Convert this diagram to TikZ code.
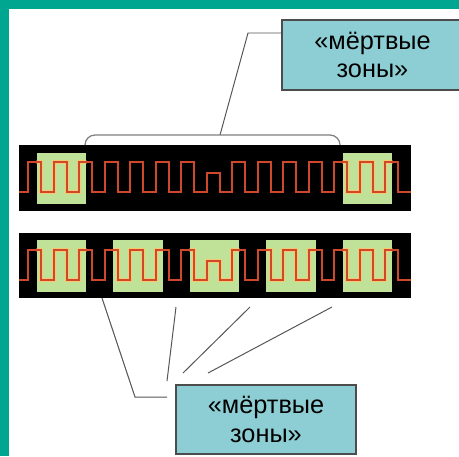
\documentclass[tikz,border=0pt]{standalone}
\usepackage{fontspec}
\setmainfont{Liberation Sans}
\usetikzlibrary{positioning}
\definecolor{rim}{RGB}{0,166,143}
\definecolor{labelfill}{RGB}{141,206,212}
\definecolor{zonefill}{RGB}{192,226,152}
\definecolor{wavered}{RGB}{208,72,44}
\definecolor{glowcol}{RGB}{246,200,112}
\definecolor{leadgray}{RGB}{85,85,85}

% square wave along a strip, #1 = y of the low level
\newcommand{\signal}[1]{(19,#1) \foreach \r/\h in {28/30,54/30,79/30,105/30,130/30,156/30,181/30,207/19,232/30,258/30,283/30,309/30,334/30,360/30,385/30} { -- (\r,#1) -- ++(0,-\h) -- ++(13,0) -- ++(0,\h) } -- (411,#1)}

\tikzset{
  labelbox/.style={draw=black!70,fill=labelfill,line width=0.8pt,align=center,inner sep=0pt,font=\fontsize{18}{20}\selectfont},
  strip/.style={fill=black,inner sep=0pt,minimum width=9.8cm},
  zone/.style={fill=zonefill,inner sep=0pt,minimum width=1.225cm},
  lead/.style={draw=leadgray,line width=0.7pt},
  bracket/.style={draw=black!50,line width=0.9pt,rounded corners=0.25cm},
  wave/.style={draw=wavered,line width=1.4pt},
  glow/.style={draw=glowcol,line width=3pt}
}

\begin{document}
\begin{tikzpicture}[x=0.025cm,y=-0.025cm]
\useasboundingbox (0,0) rectangle (459,456);
\fill[white] (0,0) rectangle (459,456);
\fill[rim] (0,0) rectangle (459,8.5);
\fill[rim] (0,0) rectangle (8.5,456);

% the two strips
\node[strip,minimum height=1.65cm] (upper) at (215,178) {};
\node[strip,minimum height=1.625cm] (lower) at (215,265.5) {};

% green zones
\node[zone,minimum height=1.275cm] (a1) at (61.5,178.5) {};
\node[zone,minimum height=1.275cm] (a2) at (367.5,178.5) {};
\foreach \i/\x in {1/61.5,2/138,3/214.5,4/291,5/367.5}
  \node[zone,minimum height=1.3cm] (b\i) at (\x,266) {};

% signals
\begin{scope}
\clip (a1.north west) rectangle (a1.south east) (a2.north west) rectangle (a2.south east);
\draw[glow] \signal{192};
\end{scope}
\begin{scope}
\clip \foreach \i in {1,...,5} {(b\i.north west) rectangle (b\i.south east)};
\draw[glow] \signal{280};
\end{scope}
\draw[wave] \signal{192};
\draw[wave] \signal{280};

% labels
\node[labelbox,minimum width=4.525cm,minimum height=1.75cm] (deadtop) at (372.5,55) {«мёртвые\\зоны»};
\node[labelbox,minimum width=4.5cm,minimum height=1.725cm] (deadbot) at (266,419.5) {«мёртвые\\зоны»};

% upper leader and bracket
\coordinate (topknee) at (248,33);
\coordinate (apex) at (220,135);
\draw[lead] (deadtop.west |- topknee) -- (topknee) -- (apex);
\draw[bracket] (85,145) -- (85,135) -- (340,135) -- (340,145);

% lower leaders
\coordinate (p1) at (102,298);
\coordinate (k1) at (135,397);
\coordinate (q1) at (167,397);
\draw[lead] (p1) -- (k1) -- (q1);
\foreach \i/\sx/\ex/\ey in {2/176/167/381,3/250/183/373,4/332/208/373} {
  \coordinate (p\i) at (\sx,307);
  \coordinate (q\i) at (\ex,\ey);
  \draw[lead] (p\i) -- (q\i);
}
\end{tikzpicture}
\end{document}
